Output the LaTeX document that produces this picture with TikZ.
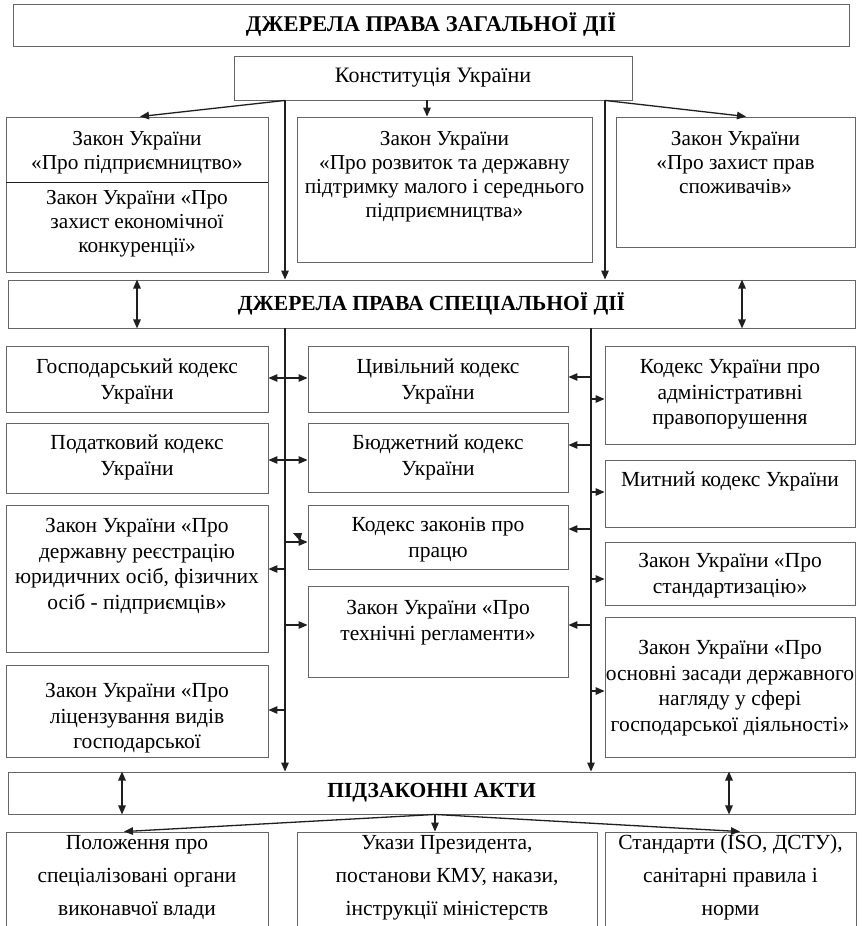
\documentclass[tikz,border=0pt]{standalone}
\usepackage{fontspec}
\setmainfont{Liberation Serif}
\usetikzlibrary{arrows.meta,fit}
\definecolor{boxc}{gray}{0.4}
\definecolor{linec}{gray}{0.12}
\newcommand\mf{\fontsize{21.5}{25.5}\selectfont}
\newcommand\tf{\fontsize{21.3}{23.8}\selectfont}
\newcommand\cf{\fontsize{22}{26}\selectfont}
\newcommand\btf{\fontsize{21.5}{33}\selectfont}
\newcommand\hf{\bfseries\fontsize{21.5}{26}\selectfont}
\newcommand\hhf{\bfseries\fontsize{22.5}{26}\selectfont}
\tikzset{
 bx/.style={draw=boxc, line width=0.9pt, inner sep=0pt},
 txt/.style={align=center, inner sep=0pt, anchor=north},
 conn/.style={draw=linec, line width=1.3pt},
 arr/.style={conn, -{Triangle[length=9pt,width=7.5pt]}},
 darr/.style={conn, {Triangle[length=9pt,width=7.5pt]}-{Triangle[length=9pt,width=7.5pt]}},
}
\newcommand\tbox[8]{%
 \node[bx, fit={(#2,#3) (#4,#5)}] (#1) {};
 \node[txt, font=#7] (#1t) at ([yshift={22pt-#6pt}]#1.north) {\rule{0pt}{22pt}#8};
}
\newcommand\hdbox[7]{%
 \node[bx, fit={(#2,#3) (#4,#5)}] (#1) {};
 \node[inner sep=0pt, font=#6] (#1t) at (#1.center) {#7};
}
\begin{document}
\begin{tikzpicture}[x=1pt,y=-1pt]
\useasboundingbox[fill=white] (0,0) rectangle (863,926);
% headers
\hdbox{top}{13}{4}{849}{46}{\hhf}{ДЖЕРЕЛА ПРАВА ЗАГАЛЬНОЇ ДІЇ}
\hdbox{const}{234}{56}{632}{100}{\cf}{Конституція України}
\hdbox{spec}{8}{280}{855}{328}{\hf}{ДЖЕРЕЛА ПРАВА СПЕЦІАЛЬНОЇ ДІЇ}
\hdbox{pidz}{8}{772}{855}{814}{\hf}{ПІДЗАКОННІ АКТИ}
% top section
\tbox{lg1}{6}{117}{268}{182}{29}{\tf}{Закон України\\«Про підприємництво»}
\tbox{lg2}{6}{182}{268}{272}{23}{\tf}{Закон України «Про\\захист економічної\\конкуренції»}
\tbox{mg}{297}{117}{592}{262}{29}{\tf}{Закон України\\«Про розвиток та державну\\підтримку малого і середнього\\підприємництва»}
\tbox{rg}{616}{117}{855}{247}{29}{\tf}{Закон України\\«Про захист прав\\споживачів»}
\draw[conn] (lg1.south west) -- (lg1.south east);
% middle section
\tbox{gk}{6}{346}{268}{412}{28}{\mf}{Господарський кодекс\\України}
\tbox{pk}{6}{423}{268}{493}{27}{\mf}{Податковий кодекс\\України}
\tbox{reg}{6}{505}{268}{652}{28}{\mf}{Закон України «Про\\державну реєстрацію\\юридичних осіб, фізичних\\осіб - підприємців»}
\tbox{lic}{6}{665}{268}{757}{33}{\mf}{Закон України «Про\\ліцензування видів\\господарської}
\tbox{civ}{308}{346}{568}{412}{28}{\mf}{Цивільний кодекс\\України}
\tbox{bud}{308}{423}{568}{492}{27}{\mf}{Бюджетний кодекс\\України}
\tbox{kzp}{308}{505}{568}{569}{27}{\mf}{Кодекс законів про\\працю}
\tbox{teh}{308}{586}{568}{677}{29}{\mf}{Закон України «Про\\технічні регламенти»}
\tbox{adm}{605}{346}{855}{444}{28}{\mf}{Кодекс України про\\адміністративні\\правопорушення}
\tbox{myt}{605}{460}{855}{527}{27}{\mf}{Митний кодекс України}
\tbox{std}{605}{542}{855}{605}{26}{\mf}{Закон України «Про\\стандартизацію»}
\tbox{osn}{605}{617}{855}{757}{38}{\mf}{Закон України «Про\\основні засади державного\\нагляду у сфері\\господарської діяльності»}
% bottom section
\tbox{b1}{6}{832}{268}{960}{18}{\btf}{Положення про\\спеціалізовані органи\\виконавчої влади}
\tbox{b2}{297}{832}{597}{960}{18}{\btf}{Укази Президента,\\постанови КМУ, накази,\\інструкції міністерств}
\tbox{b3}{605}{832}{856}{960}{18}{\btf}{Стандарти (ISO, ДСТУ),\\санітарні правила і\\норми}
% coordinates
\coordinate (tL) at (285,0);
\coordinate (tR) at (605,0);
\coordinate (mR) at (591,0);
\coordinate (aL) at (140,0);
\coordinate (aM) at (427,0);
\coordinate (aR) at (746,0);
\coordinate (d1) at (137,0);
\coordinate (d2) at (742,0);
\coordinate (e1) at (122,0);
\coordinate (e2) at (729,0);
\coordinate (pc) at (435,0);
\coordinate (bl) at (124,0);
\coordinate (br) at (740,0);
% top connectors
\draw[arr] (const.south -| tL) -- (lg1.north -| aL);
\draw[arr] (const.south -| aM) -- (mg.north -| aM);
\draw[arr] (const.south -| tR) -- (rg.north -| aR);
\draw[arr] (const.south -| tL) -- (spec.north -| tL);
\draw[arr] (const.south -| tR) -- (spec.north -| tR);
\draw[darr] (spec.north -| d1) -- (spec.south -| d1);
\draw[darr] (spec.north -| d2) -- (spec.south -| d2);
% trunks
\draw[arr] (spec.south -| tL) -- (pidz.north -| tL);
\draw[arr] (spec.south -| mR) -- (pidz.north -| mR);
% left trunk branches
\coordinate (l1) at (285,378);
\coordinate (l2) at (285,460);
\coordinate (l3) at (285,542);
\coordinate (l4) at (285,569);
\coordinate (l5) at (285,625);
\coordinate (l6) at (285,710);
\draw[darr] (l1 -| gk.east) -- (l1 -| civ.west);
\draw[darr] (l2 -| pk.east) -- (l2 -| bud.west);
\draw[arr] (l3) -- (l3 -| kzp.west);
\draw[arr] (l4) -- (l4 -| reg.east);
\draw[arr] (l5) -- (l5 -| teh.west);
\draw[arr] (l6) -- (l6 -| lic.east);
\fill[linec] (293,533) -- (302,533) -- (300,541) -- cycle;
% right trunk branches
\coordinate (r1) at (591,377);
\coordinate (r2) at (591,399);
\coordinate (r3) at (591,445);
\coordinate (r4) at (591,492);
\coordinate (r5) at (591,529);
\coordinate (r6) at (591,579);
\coordinate (r7) at (591,625);
\coordinate (r8) at (591,691);
\draw[arr] (r1) -- (r1 -| civ.east);
\draw[arr] (r2) -- (r2 -| adm.west);
\draw[arr] (r3) -- (r3 -| bud.east);
\draw[arr] (r4) -- (r4 -| myt.west);
\draw[arr] (r5) -- (r5 -| kzp.east);
\draw[arr] (r6) -- (r6 -| std.west);
\draw[arr] (r7) -- (r7 -| teh.east);
\draw[arr] (r8) -- (r8 -| osn.west);
% bottom connectors
\draw[darr] (pidz.north -| e1) -- (pidz.south -| e1);
\draw[darr] (pidz.north -| e2) -- (pidz.south -| e2);
\draw[arr] (pidz.south -| pc) -- (b1.north -| bl);
\draw[arr] (pidz.south -| pc) -- (b2.north -| pc);
\draw[arr] (pidz.south -| pc) -- (b3.north -| br);
\end{tikzpicture}
\end{document}
